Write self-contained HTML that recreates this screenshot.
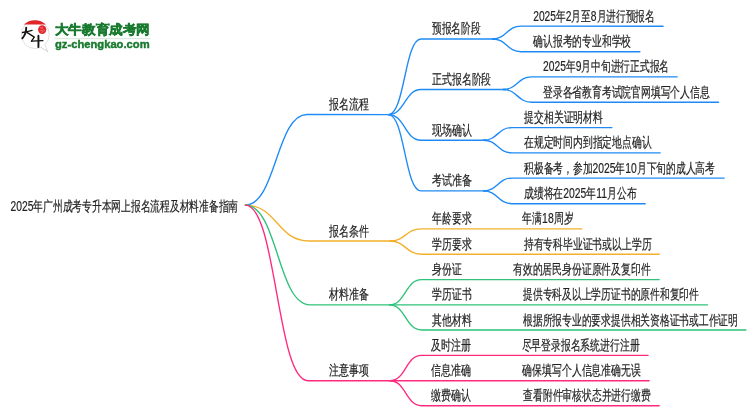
<!DOCTYPE html>
<html><head><meta charset="utf-8"><style>
html,body{margin:0;padding:0;background:#fff;width:750px;height:410px;overflow:hidden}
svg{position:absolute;left:0;top:0;will-change:transform}
text{font-family:"Liberation Sans",sans-serif}
.d{font-size:14.8px}
.t{font-size:13.5px;fill:#222222;stroke:#222222;stroke-width:0.2}
.ln{fill:none;stroke-width:1.35;stroke-linecap:round}
</style></head><body>
<svg width="750" height="410" viewBox="0 0 750 410">
<g id="logo">
  <circle cx="35.3" cy="34.6" r="14" fill="#fff" stroke="#dcdcdc" stroke-width="0.9"/>
  <path d="M44.5 44.5 L47.8 51.8 L41 47.3" fill="#fff" stroke="#d0d0d0" stroke-width="0.9" stroke-linejoin="round"/>
  <path d="M44 44 L46.5 49.5 L42 46.5 Z" fill="#fff"/>
  <path d="M23.8 24.6 A16 16 0 0 1 45.9 24.6 Z" fill="#e0262b"/>
  <ellipse cx="42.2" cy="29.6" rx="4.1" ry="4.3" fill="#e4252a"/>
  <path d="M39.8 27.2 l2 1.2 M42.6 26.6 l-0.6 2.4 M40.2 30.4 h2.6 M43.6 29.4 l0.9 1.8 M41.2 32.2 l2.4 -0.6" stroke="#f4a0a0" stroke-width="0.6" fill="none"/>
  <g stroke="#141414" fill="none" stroke-linecap="round" stroke-linejoin="round">
    <path d="M22.5 32.5 Q27 31.5 32.1 30.3" stroke-width="1.3"/>
    <path d="M26.2 27.6 Q26.4 33.6 22.3 38.3" stroke-width="1.9"/>
    <path d="M26.9 32.4 L34.3 37.1 L31.5 41.2" stroke-width="1.4"/>
    <path d="M31.5 41.2 Q37 40.8 42.9 40.7" stroke-width="1.3"/>
    <path d="M38.4 35.7 Q38.6 41 38.4 47" stroke-width="1.9"/>
  </g>
  <text x="54.8" y="33.9" textLength="95.2" lengthAdjust="spacingAndGlyphs" style="font-size:13.4px;font-weight:bold;fill:#187a2e;stroke:#187a2e;stroke-width:0.5">大牛教育成考网</text>
  <rect x="54.5" y="38.2" width="96" height="1" fill="#d5e3d8"/>
  <text x="55" y="47.6" textLength="94.6" lengthAdjust="spacingAndGlyphs" style="font-size:10.5px;font-weight:bold;fill:#187a2e;stroke:#187a2e;stroke-width:0.4">gz-chengkao.com</text>
</g>

<path class="ln" d="M245.30 205.10 C276.15 205.10 276.15 114.55 307.00 114.55 L391.20 114.55" stroke="#1e8af6" />
<path class="ln" d="M245.30 205.10 C277.15 205.10 277.15 241.00 309.00 241.00 L392.70 241.00" stroke="#f4b02a" />
<path class="ln" d="M245.30 205.10 C277.65 205.10 277.65 304.85 310.00 304.85 L392.20 304.85" stroke="#2ec27a" />
<path class="ln" d="M245.30 205.10 C276.65 205.10 276.65 380.70 308.00 380.70 L392.70 380.70" stroke="#ff2a7e" />
<path class="ln" d="M388.50 114.55 C404.75 114.55 404.75 38.95 421.00 38.95 L495.20 38.95" stroke="#1e8af6" />
<path class="ln" d="M388.50 114.55 C404.75 114.55 404.75 89.50 421.00 89.50 L505.80 89.50" stroke="#1e8af6" />
<path class="ln" d="M388.50 114.55 C404.75 114.55 404.75 140.20 421.00 140.20 L486.20 140.20" stroke="#1e8af6" />
<path class="ln" d="M388.50 114.55 C404.75 114.55 404.75 190.90 421.00 190.90 L486.20 190.90" stroke="#1e8af6" />
<path class="ln" d="M492.50 38.95 C506.75 38.95 506.75 26.20 521.00 26.20 L663.10 26.20" stroke="#1e8af6" />
<path class="ln" d="M492.50 38.95 C506.75 38.95 506.75 51.70 521.00 51.70 L639.90 51.70" stroke="#1e8af6" />
<path class="ln" d="M503.10 89.50 C517.35 89.50 517.35 76.80 531.60 76.80 L677.20 76.80" stroke="#1e8af6" />
<path class="ln" d="M503.10 89.50 C517.35 89.50 517.35 102.25 531.60 102.25 L718.50 102.25" stroke="#1e8af6" />
<path class="ln" d="M483.50 140.20 C497.75 140.20 497.75 127.55 512.00 127.55 L611.90 127.55" stroke="#1e8af6" />
<path class="ln" d="M483.50 140.20 C497.75 140.20 497.75 152.85 512.00 152.85 L660.20 152.85" stroke="#1e8af6" />
<path class="ln" d="M483.50 190.90 C497.75 190.90 497.75 178.10 512.00 178.10 L724.20 178.10" stroke="#1e8af6" />
<path class="ln" d="M483.50 190.90 C497.75 190.90 497.75 203.70 512.00 203.70 L645.20 203.70" stroke="#1e8af6" />
<path class="ln" d="M390.00 241.00 C405.75 241.00 405.75 228.80 421.50 228.80 L581.90 228.80" stroke="#f4b02a" />
<path class="ln" d="M390.00 241.00 C405.75 241.00 405.75 254.25 421.50 254.25 L659.20 254.25" stroke="#f4b02a" />
<path class="ln" d="M389.50 304.85 C405.50 304.85 405.50 279.55 421.50 279.55 L659.20 279.55" stroke="#2ec27a" />
<path class="ln" d="M393.00 304.85 L707.50 304.85" stroke="#2ec27a" />
<path class="ln" d="M389.50 304.85 C405.50 304.85 405.50 330.00 421.50 330.00 L745.90 330.00" stroke="#2ec27a" />
<path class="ln" d="M390.00 380.70 C405.75 380.70 405.75 355.40 421.50 355.40 L648.00 355.40" stroke="#ff2a7e" />
<path class="ln" d="M393.50 380.70 L649.10 380.70" stroke="#ff2a7e" />
<path class="ln" d="M390.00 380.70 C405.75 380.70 405.75 405.70 421.50 405.70 L659.20 405.70" stroke="#ff2a7e" />
<text class="t" x="10.50" y="210.60" textLength="227.50" lengthAdjust="spacingAndGlyphs"><tspan class="d">2025</tspan>年广州成考专升本网上报名流程及材料准备指南</text>
<text class="t" x="329.20" y="109.05" textLength="39.70" lengthAdjust="spacingAndGlyphs">报名流程</text>
<text class="t" x="329.20" y="235.50" textLength="39.70" lengthAdjust="spacingAndGlyphs">报名条件</text>
<text class="t" x="329.20" y="299.35" textLength="39.70" lengthAdjust="spacingAndGlyphs">材料准备</text>
<text class="t" x="329.20" y="375.20" textLength="39.70" lengthAdjust="spacingAndGlyphs">注意事项</text>
<text class="t" x="432.00" y="33.45" textLength="48.70" lengthAdjust="spacingAndGlyphs">预报名阶段</text>
<text class="t" x="432.00" y="84.00" textLength="59.30" lengthAdjust="spacingAndGlyphs">正式报名阶段</text>
<text class="t" x="432.00" y="134.70" textLength="40.10" lengthAdjust="spacingAndGlyphs">现场确认</text>
<text class="t" x="432.00" y="185.40" textLength="40.10" lengthAdjust="spacingAndGlyphs">考试准备</text>
<text class="t" x="533.20" y="20.70" textLength="121.50" lengthAdjust="spacingAndGlyphs"><tspan class="d">2025</tspan>年<tspan class="d">2</tspan>月至<tspan class="d">8</tspan>月进行预报名</text>
<text class="t" x="533.20" y="46.20" textLength="98.00" lengthAdjust="spacingAndGlyphs">确认报考的专业和学校</text>
<text class="t" x="543.00" y="71.30" textLength="126.00" lengthAdjust="spacingAndGlyphs"><tspan class="d">2025</tspan>年<tspan class="d">9</tspan>月中旬进行正式报名</text>
<text class="t" x="543.00" y="96.75" textLength="166.70" lengthAdjust="spacingAndGlyphs">登录各省教育考试院官网填写个人信息</text>
<text class="t" x="524.00" y="122.05" textLength="79.00" lengthAdjust="spacingAndGlyphs">提交相关证明材料</text>
<text class="t" x="524.00" y="147.35" textLength="127.40" lengthAdjust="spacingAndGlyphs">在规定时间内到指定地点确认</text>
<text class="t" x="524.00" y="172.60" textLength="191.00" lengthAdjust="spacingAndGlyphs">积极备考，参加<tspan class="d">2025</tspan>年<tspan class="d">10</tspan>月下旬的成人高考</text>
<text class="t" x="524.00" y="198.20" textLength="112.40" lengthAdjust="spacingAndGlyphs">成绩将在<tspan class="d">2025</tspan>年<tspan class="d">11</tspan>月公布</text>
<text class="t" x="432.00" y="223.30" textLength="39.40" lengthAdjust="spacingAndGlyphs">年龄要求</text>
<text class="t" x="522.40" y="223.30" textLength="51.00" lengthAdjust="spacingAndGlyphs">年满<tspan class="d">18</tspan>周岁</text>
<text class="t" x="432.00" y="248.75" textLength="39.40" lengthAdjust="spacingAndGlyphs">学历要求</text>
<text class="t" x="523.70" y="248.75" textLength="127.70" lengthAdjust="spacingAndGlyphs">持有专科毕业证书或以上学历</text>
<text class="t" x="432.00" y="274.05" textLength="29.50" lengthAdjust="spacingAndGlyphs">身份证</text>
<text class="t" x="513.00" y="274.05" textLength="137.60" lengthAdjust="spacingAndGlyphs">有效的居民身份证原件及复印件</text>
<text class="t" x="432.00" y="299.35" textLength="39.40" lengthAdjust="spacingAndGlyphs">学历证书</text>
<text class="t" x="523.00" y="299.35" textLength="176.00" lengthAdjust="spacingAndGlyphs">提供专科及以上学历证书的原件和复印件</text>
<text class="t" x="432.00" y="324.50" textLength="39.40" lengthAdjust="spacingAndGlyphs">其他材料</text>
<text class="t" x="523.00" y="324.50" textLength="215.00" lengthAdjust="spacingAndGlyphs">根据所报专业的要求提供相关资格证书或工作证明</text>
<text class="t" x="430.70" y="349.90" textLength="40.00" lengthAdjust="spacingAndGlyphs">及时注册</text>
<text class="t" x="521.60" y="349.90" textLength="117.80" lengthAdjust="spacingAndGlyphs">尽早登录报名系统进行注册</text>
<text class="t" x="430.70" y="375.20" textLength="40.00" lengthAdjust="spacingAndGlyphs">信息准确</text>
<text class="t" x="522.40" y="375.20" textLength="118.30" lengthAdjust="spacingAndGlyphs">确保填写个人信息准确无误</text>
<text class="t" x="430.70" y="400.20" textLength="40.00" lengthAdjust="spacingAndGlyphs">缴费确认</text>
<text class="t" x="523.20" y="400.20" textLength="127.50" lengthAdjust="spacingAndGlyphs">查看附件审核状态并进行缴费</text>
</svg>
</body></html>
